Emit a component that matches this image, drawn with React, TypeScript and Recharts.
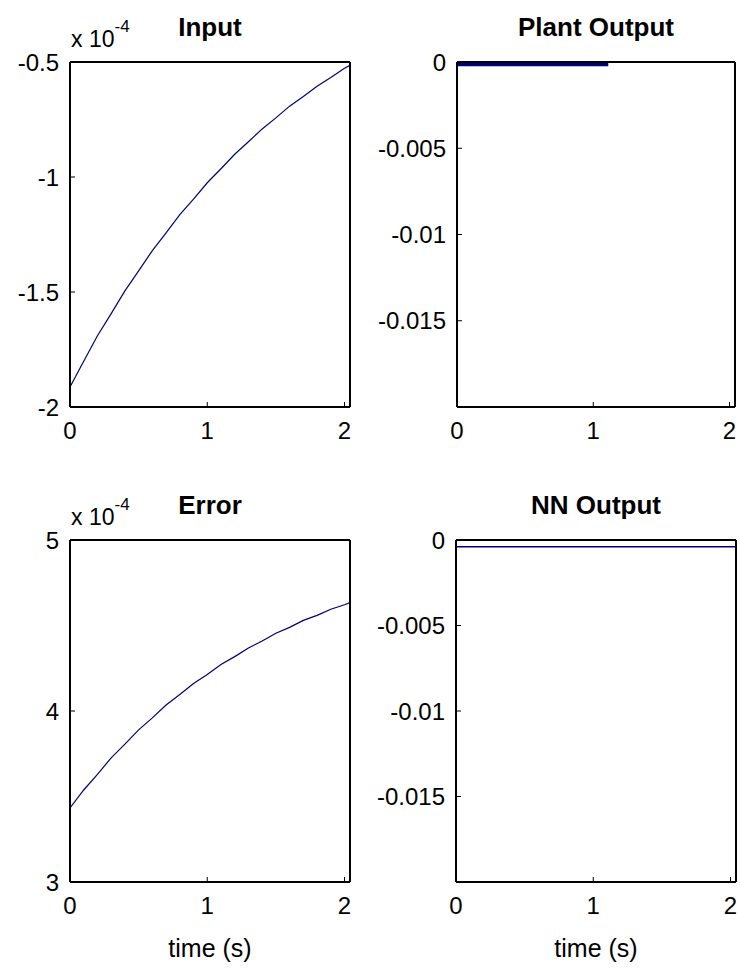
import { LineChart, Line, XAxis, YAxis, Label } from 'recharts'

// time base (s)
const sampleTime = [0, 0.1, 0.2, 0.3, 0.4, 0.5, 0.6, 0.7, 0.8, 0.9, 1.0, 1.1, 1.2, 1.3, 1.4, 1.5, 1.6, 1.7, 1.8, 1.9, 2.0, 2.04]

// Input, in units of 1e-4
const inputValue = [-1.913, -1.801, -1.690, -1.594, -1.495, -1.408, -1.320, -1.243, -1.164, -1.096, -1.025, -0.964, -0.901, -0.847, -0.791, -0.743, -0.692, -0.650, -0.605, -0.567, -0.527, -0.514]

// Error, in units of 1e-4
const errorValue = [3.433, 3.538, 3.630, 3.726, 3.806, 3.890, 3.960, 4.035, 4.096, 4.161, 4.214, 4.272, 4.318, 4.369, 4.409, 4.455, 4.489, 4.530, 4.559, 4.595, 4.621, 4.634]

// Plant output only runs up to ~1.1 s, sits right on the top edge
const plantTime = [0, 0.2, 0.4, 0.6, 0.8, 1.0, 1.11]
const plantValue = [-0.00014, -0.00014, -0.00014, -0.00014, -0.00014, -0.00014, -0.00014]

const nnTime = [0, 0.5, 1.0, 1.5, 2.04]
const nnValue = [-0.0004, -0.0004, -0.0004, -0.0004, -0.0004]

const timeTicks = [0, 1, 2]
const inputTicks = [-2, -1.5, -1, -0.5]
const errorTicks = [3, 4, 5]
const outputTicks = [-0.015, -0.01, -0.005, 0]

const FONT = "'Liberation Sans', Arial, sans-serif"
const LINE_COLOR = '#000078'
const X_MAX = 2.04

const toRows = (t: number[], v: number[]) => t.map((x, i) => ({ t: x, v: v[i] }))

interface PanelProps {
  x: number
  y: number
  w: number
  h: number
  rows: Array<{ t: number; v: number }>
  yDomain: [number, number]
  yTicks: number[]
  title: string
  scaled?: boolean
  xLabel?: boolean
  lineWidth?: number
}

function Panel({ x, y, w, h, rows, yDomain, yTicks, title, scaled, xLabel, lineWidth = 1.2 }: PanelProps) {
  const padL = 90
  const padT = 62
  const axisH = 40
  const padB = 45
  const padR = 5

  const titleContent = (props: any) => {
    const vb = props.viewBox
    const top = vb.y + vb.height
    return (
      <g>
        <text x={vb.x + vb.width / 2} y={top - 26} textAnchor="middle" fontFamily={FONT} fontWeight="bold" fontSize={26} fill="#000">
          {title}
        </text>
        {scaled && (
          <text x={vb.x + 1} y={top - 15} fontFamily={FONT} fontSize={23} fill="#000">
            x 10<tspan dy={-15} fontSize={17}>-4</tspan>
          </text>
        )}
      </g>
    )
  }

  const timeContent = (props: any) => {
    const vb = props.viewBox
    return (
      <text x={vb.x + vb.width / 2} y={vb.y + 75} textAnchor="middle" fontFamily={FONT} fontSize={25} fill="#000">
        time (s)
      </text>
    )
  }

  const axisLine = { stroke: '#000', strokeWidth: 2 }
  const tickLine = { stroke: '#000', strokeWidth: 1 }
  const tickStyle = { fill: '#000', fontSize: 24, fontFamily: FONT }

  return (
    <div style={{ position: 'absolute', left: x - padL, top: y - padT }}>
      <LineChart
        width={padL + w + 1 + padR}
        height={padT + h + axisH + padB}
        data={rows}
        margin={{ top: padT - 1, right: padR, bottom: padB, left: 0 }}
      >
        <XAxis
          xAxisId="b"
          dataKey="t"
          type="number"
          domain={[0, X_MAX]}
          ticks={timeTicks}
          interval={0}
          allowDataOverflow
          height={axisH}
          axisLine={axisLine}
          tickLine={tickLine}
          tickSize={-5}
          tickMargin={20}
          tick={tickStyle}
        >
          {xLabel && <Label content={timeContent} />}
        </XAxis>
        <XAxis
          xAxisId="top"
          orientation="top"
          dataKey="t"
          type="number"
          domain={[0, X_MAX]}
          ticks={timeTicks}
          interval={0}
          allowDataOverflow
          height={1}
          axisLine={axisLine}
          tickLine={tickLine}
          tickSize={-5}
          tick={false}
        >
          <Label content={titleContent} />
        </XAxis>
        <YAxis
          yAxisId="l"
          type="number"
          domain={yDomain}
          ticks={yTicks}
          interval={0}
          allowDataOverflow
          width={padL}
          axisLine={axisLine}
          tickLine={tickLine}
          tickSize={-5}
          tickMargin={16}
          tick={tickStyle}
        />
        <YAxis
          yAxisId="r"
          orientation="right"
          type="number"
          domain={yDomain}
          ticks={yTicks}
          interval={0}
          allowDataOverflow
          width={1}
          axisLine={axisLine}
          tickLine={tickLine}
          tickSize={-5}
          tick={false}
        />
        <Line
          xAxisId="b"
          yAxisId="l"
          type="linear"
          dataKey="v"
          stroke={LINE_COLOR}
          strokeWidth={lineWidth}
          dot={false}
          activeDot={false}
          isAnimationActive={false}
        />
      </LineChart>
    </div>
  )
}

export default function App() {
  return (
    <div style={{ position: 'absolute', left: 0, top: 0, width: 740, height: 968, background: '#fff', overflow: 'hidden' }}>
      <Panel x={70} y={62} w={280} h={345} rows={toRows(sampleTime, inputValue)} yDomain={[-2, -0.5]} yTicks={inputTicks} title="Input" scaled />
      <Panel x={457} y={62} w={278} h={345} rows={toRows(plantTime, plantValue)} yDomain={[-0.02, 0]} yTicks={outputTicks} title="Plant Output" lineWidth={3.5} />
      <Panel x={70} y={540} w={280} h={342} rows={toRows(sampleTime, errorValue)} yDomain={[3, 5]} yTicks={errorTicks} title="Error" scaled xLabel />
      <Panel x={456} y={540} w={280} h={342} rows={toRows(nnTime, nnValue)} yDomain={[-0.02, 0]} yTicks={outputTicks} title="NN Output" xLabel lineWidth={1.5} />
    </div>
  )
}
